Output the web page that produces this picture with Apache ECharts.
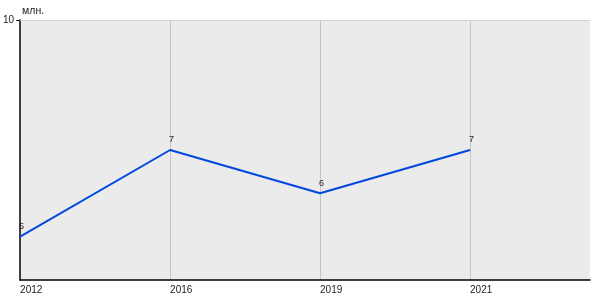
<!DOCTYPE html>
<html><head><meta charset="utf-8">
<script src="https://cdn.jsdelivr.net/npm/echarts@6/dist/echarts.min.js"></script>
<style>html,body{margin:0;padding:0;background:#fff}#c{width:600px;height:300px}</style>
</head><body><div id="c"></div>
<script>
const years = ['2012', '2016', '2019', '2021'];
const values = [5, 7, 6, 7];
const yTicks = [10];
const unit = 'млн.';

const chart = echarts.init(document.getElementById('c'), null, {renderer: 'canvas'});
const font = 'Liberation Sans, Arial, sans-serif';
chart.setOption({
  animation: false,
  grid: {left: 20, right: 10, top: 20, bottom: 20, show: true, backgroundColor: '#ebebeb', borderWidth: 0},
  xAxis: [{
    type: 'value', min: 0, max: 3.8, interval: 1,
    axisLine: {show: true, lineStyle: {color: '#000', width: 1.5}},
    axisTick: {show: false},
    axisLabel: {customValues: [0, 1, 2, 3], formatter: v => years[Math.round(v)] || '', align: 'left', fontSize: 10, color: '#222', fontFamily: font, margin: 5},
    splitLine: {show: true, showMinLine: false, showMaxLine: false, lineStyle: {color: '#c4c4c4', width: 1}}
  }, {
    type: 'value', min: 0, max: 3.8, position: 'top',
    axisLine: {show: true, onZero: false, lineStyle: {color: '#d2d2d2', width: 1}},
    axisTick: {show: false}, axisLabel: {show: false}, splitLine: {show: false}
  }],
  yAxis: {
    type: 'value', min: 4, max: 10,
    name: unit, nameLocation: 'end', nameGap: 3,
    nameTextStyle: {align: 'left', fontSize: 10.5, color: '#222', fontFamily: font, padding: [0, 0, 0, 2]},
    axisLine: {show: true, lineStyle: {color: '#000', width: 1.5}},
    axisTick: {show: true, customValues: yTicks, length: 4, lineStyle: {color: '#000'}},
    axisLabel: {customValues: yTicks, fontSize: 10, color: '#222', fontFamily: font, margin: 6},
    splitLine: {show: false}
  },
  series: [{
    type: 'line', xAxisIndex: 0,
    data: values.map((v, i) => [i, v]),
    showSymbol: true, symbol: 'circle', symbolSize: 1,
    itemStyle: {color: '#0047e0'},
    lineStyle: {color: '#0047e0', width: 2},
    label: {show: true, position: 'top', align: 'left', offset: [-1, 0], distance: 5, fontSize: 9, color: '#222', fontFamily: font, formatter: p => String(p.value[1])}
  }]
});
</script></body></html>
